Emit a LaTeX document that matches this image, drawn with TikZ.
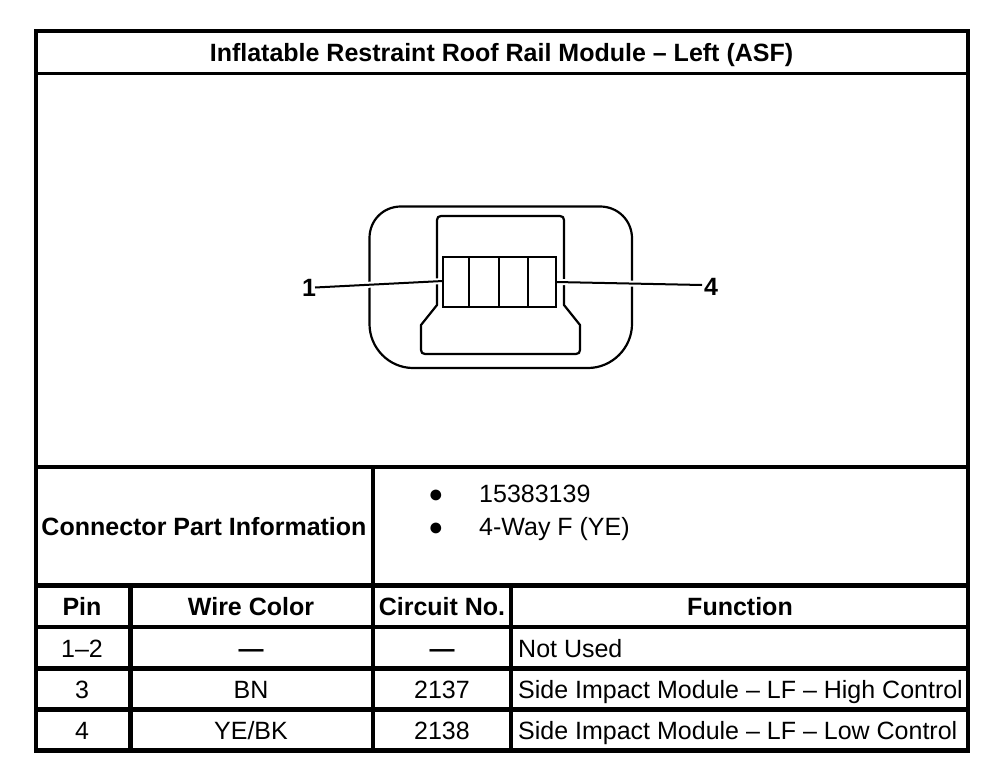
\documentclass[tikz,border=0pt]{standalone}
\usepackage{fontspec}
\setmainfont{Liberation Sans}
\tikzset{
  x=1pt,y=-1pt,
  thin rule/.style={line width=2.4pt},
  mid rule/.style={line width=4.2pt},
  thick rule/.style={line width=4.4pt},
  shape line/.style={line width=2.2pt,line join=round},
  halo/.style={white,line width=6pt},
  leader/.style={line width=2pt},
  head/.style={inner sep=0pt,anchor=base,font=\fontsize{25}{28}\selectfont\bfseries},
  cell/.style={inner sep=0pt,anchor=base,font=\fontsize{25}{28}\selectfont},
  lcell/.style={cell,anchor=base west},
  dashcell/.style={inner sep=0pt,anchor=base,font=\fontsize{25}{28}\selectfont\bfseries},
  pinlabel/.style={inner sep=0pt,anchor=base,font=\fontsize{25}{28}\selectfont\bfseries},
}
\begin{document}
\begin{tikzpicture}
\useasboundingbox (0,0) rectangle (1008,770);
\fill[white] (0,0) rectangle (1008,770);
% table rules
\draw[thin rule] (36,73.5) -- (968,73.5);
\draw[thick rule] (36,467) -- (968,467);
\draw[mid rule] (36,585.5) -- (968,585.5);
\draw[mid rule] (36,627) -- (968,627);
\draw[mid rule] (36,668.5) -- (968,668.5);
\draw[mid rule] (36,709.5) -- (968,709.5);
\draw[mid rule] (373,467) -- (373,750);
\draw[mid rule] (130.5,585.5) -- (130.5,750);
\draw[mid rule] (511,585.5) -- (511,750);
\draw[mid rule] (36,31) rectangle (968,750.5);
% connector drawing
\draw[shape line] (401,206.5) -- (600,206.5)
  .. controls (618,206.5) and (632,220.5) .. (632,238.5) -- (632,324)
  .. controls (632,348) and (612,368) .. (588,368) -- (413,368)
  .. controls (389,368) and (369.5,348) .. (369.5,324) -- (369.5,238)
  .. controls (369.5,220.5) and (383,206.5) .. (401,206.5) -- cycle;
\draw[shape line] (441,216) -- (560,216) .. controls (562.5,216) and (564,217.5) .. (564,220)
  -- (564,305) -- (580,325) -- (580,350) .. controls (580,352.5) and (578.5,354) .. (576,354)
  -- (425,354) .. controls (422.5,354) and (421,352.5) .. (421,350)
  -- (421,325) -- (437,305) -- (437,220) .. controls (437,217.5) and (438.5,216) .. (441,216) -- cycle;
\node[pinlabel] (p1) at (309,296) {1};
\node[pinlabel] (p4) at (711,295) {4};
\coordinate (l1) at (315,287.5);
\coordinate (l4) at (702,285);
\coordinate (c1) at (443,281);
\coordinate (c4) at (556,282);
\draw[halo] (l1) -- (c1);
\draw[halo] (l4) -- (c4);
\draw[leader] (l1) -- (c1);
\draw[leader] (l4) -- (c4);
\node[draw,line width=2.2pt,fill=white,minimum width=113pt,minimum height=50pt,inner sep=0pt] (pins) at (499.5,282) {};
\draw[line width=2.6pt] (469,257) -- (469,307);
\draw[line width=2pt] (499,257) -- (499,307);
\draw[line width=2.2pt] (528,257) -- (528,307);
% text
\node[head] (title) at (501.5,61.5) {Inflatable Restraint Roof Rail Module – Left (ASF)};
\node[head] (cpi) at (204,535) {Connector Part Information};
\node[cell] (b1) at (436,502) {●};
\node[lcell] (t1) at (479,502) {15383139};
\node[cell] (b2) at (436,535) {●};
\node[lcell] (t2) at (479,535) {4-Way F (YE)};
\node[head] (h1) at (82,615.5) {Pin};
\node[head] (h2) at (251,615.5) {Wire Color};
\node[head] (h3) at (442,615.5) {Circuit No.};
\node[head] (h4) at (740,615.5) {Function};
\node[cell] (a1) at (82,657) {1–2};
\node[dashcell] (a2) at (251,657) {—};
\node[dashcell] (a3) at (442,657) {—};
\node[lcell] (a4) at (518,657) {Not Used};
\node[cell] (b3) at (82,698) {3};
\node[cell] (b4) at (251,698) {BN};
\node[cell] (b5) at (442,698) {2137};
\node[lcell] (b6) at (518,698) {Side Impact Module – LF – High Control};
\node[cell] (c3) at (82,739) {4};
\node[cell] (c5) at (251,739) {YE/BK};
\node[cell] (c6) at (442,739) {2138};
\node[lcell] (c7) at (518,739) {Side Impact Module – LF – Low Control};
\end{tikzpicture}
\end{document}
